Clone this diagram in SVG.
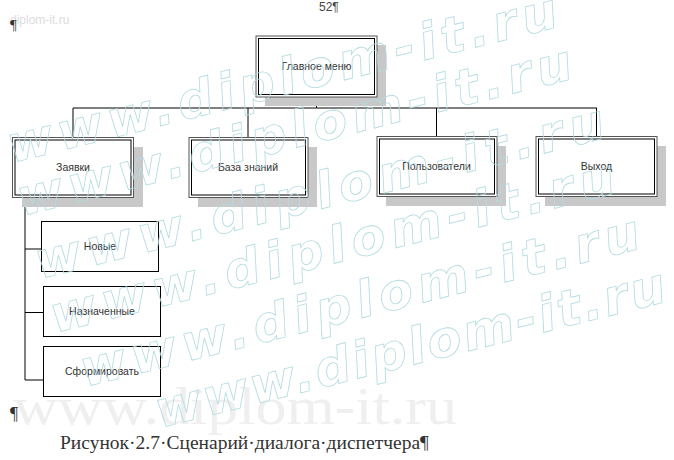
<svg xmlns="http://www.w3.org/2000/svg" width="674" height="460" viewBox="0 0 674 460">
<style>
.lbl{font-family:"Liberation Sans",Arial,sans-serif;font-size:10.5px;fill:#333;text-anchor:middle}
.sh{fill:#c8c8c8}
.ob{fill:#fff;stroke:#555;stroke-width:1}
.ib{fill:none;stroke:#000;stroke-width:1}
.sb{fill:#fff;stroke:#000;stroke-width:1}
.con{stroke:#000;stroke-width:1;fill:none}
.wm{font-family:"DejaVu Sans",Verdana,sans-serif;font-weight:bold;font-style:italic;font-size:50px;fill:none;stroke:#b2dbe2;stroke-width:0.8}
.mark{font-family:"Liberation Serif","Times New Roman",serif;fill:#333}
</style>
<rect width="674" height="460" fill="#fff"/>
<g id="page-marks">
<text x="10" y="24" font-family="Liberation Sans,Arial,sans-serif" font-size="12" fill="#dcdcdc">diplom-it.ru</text>
<text x="10" y="30" class="mark" font-size="15">¶</text>
<text x="319" y="11" font-family="Liberation Sans,Arial,sans-serif" font-size="12" fill="#444">52¶</text>
<text x="13" y="424" font-family="Liberation Serif,Times New Roman,serif" font-size="52" fill="#efefef" textLength="444" lengthAdjust="spacingAndGlyphs">www.diplom-it.ru</text>
<text x="10" y="420" class="mark" font-size="18">¶</text>
<text x="60" y="449" class="mark" font-size="19.5" fill="#111">Рисунок·2.7·Сценарий·диалога·диспетчера¶</text>
</g>
<g id="connectors">
<path class="con" d="M316.5,97V108M73,108H597M73,108V137M248,108V137M436.5,108V137M596.5,108V137"/>
<path class="con" d="M25,197V380M25,249H41M25,312.5H43M25,380H43"/>
</g>
<g id="node-main">
<rect class="sh" x="265" y="45" width="121" height="61"/>
<rect class="ob" x="256" y="36" width="121" height="61"/>
<rect class="ib" x="258.5" y="38.5" width="116" height="56"/>
<text class="lbl" x="316.5" y="69.5">Главное меню</text>
</g>
<g id="node-zayavki">
<rect class="sh" x="22" y="147" width="121" height="60"/>
<rect class="ob" x="12.5" y="137.5" width="121" height="60"/>
<rect class="ib" x="15" y="140" width="116" height="55"/>
<text class="lbl" x="73" y="171">Заявки</text>
</g>
<g id="node-baza">
<rect class="sh" x="198" y="147" width="119" height="60"/>
<rect class="ob" x="189" y="137.5" width="119" height="60"/>
<rect class="ib" x="191.5" y="140" width="114" height="55"/>
<text class="lbl" x="248" y="171">База знаний</text>
</g>
<g id="node-users">
<rect class="sh" x="386" y="146" width="120" height="60"/>
<rect class="ob" x="377" y="136.5" width="120" height="60"/>
<rect class="ib" x="379.5" y="139" width="115" height="55"/>
<text class="lbl" x="436.5" y="170">Пользователи</text>
</g>
<g id="node-exit">
<rect class="sh" x="545" y="146" width="121" height="60"/>
<rect class="ob" x="536" y="136.5" width="121" height="60"/>
<rect class="ib" x="538.5" y="139" width="116" height="55"/>
<text class="lbl" x="596.5" y="170">Выход</text>
</g>
<g id="node-new">
<rect class="sb" x="41.5" y="221.5" width="117" height="50"/>
<text class="lbl" x="100" y="250">Новые</text>
</g>
<g id="node-assigned">
<rect class="sb" x="43.5" y="286.5" width="117" height="50"/>
<text class="lbl" x="102" y="315">Назначенные</text>
</g>
<g id="node-form">
<rect class="sb" x="43.5" y="346.5" width="117" height="50"/>
<text class="lbl" x="102" y="375">Сформировать</text>
</g>
<g id="watermark">
<text class="wm" transform="translate(12,163) rotate(-14)" textLength="565" lengthAdjust="spacing">www.diplom-it.ru</text>
<text class="wm" transform="translate(22,216) rotate(-14)" textLength="570" lengthAdjust="spacing">www.diplom-it.ru</text>
<text class="wm" transform="translate(40,279) rotate(-14)" textLength="585" lengthAdjust="spacing">www.diplom-it.ru</text>
<text class="wm" transform="translate(55,333) rotate(-14)" textLength="580" lengthAdjust="spacing">www.diplom-it.ru</text>
<text class="wm" transform="translate(85,387) rotate(-14)" textLength="575" lengthAdjust="spacing">www.diplom-it.ru</text>
<text class="wm" transform="translate(160,428) rotate(-14)" textLength="524" lengthAdjust="spacing">www.diplom-it.ru</text>
</g>
</svg>
